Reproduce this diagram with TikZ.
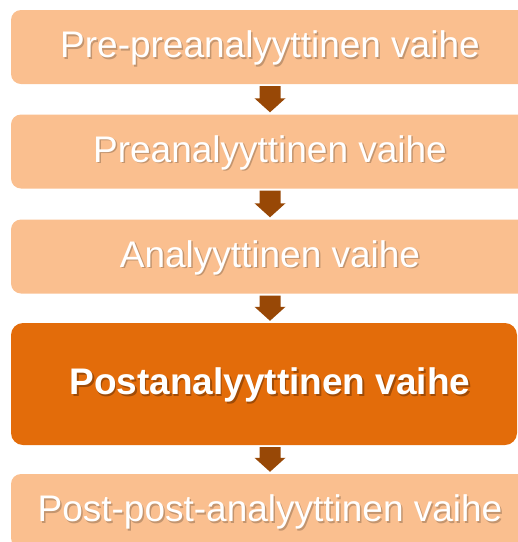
\documentclass[tikz,border=0pt]{standalone}
\usepackage{fontspec}
\setmainfont{Liberation Sans}
\usetikzlibrary{calc}

\definecolor{peach}{HTML}{FABF8F}
\definecolor{burnt}{HTML}{E36C0A}
\definecolor{arrowbrown}{HTML}{984806}

% white label with a soft drop shadow behind it, set slightly low in its box
\newcommand\shadowlabel[2]{\raisebox{-2pt}[\height][\depth]{%
  \rlap{\kern1.5pt\raisebox{-1.5pt}{\color{#1}#2}}#2}}

\tikzset{
  stagebox/.style={fill=peach, draw=none, rounded corners=10pt,
    minimum height=74pt, inner sep=0pt, text=white,
    font=\fontsize{37}{40}\selectfont},
  focusbox/.style={fill=burnt, draw=none, rounded corners=12pt,
    minimum height=122pt, inner sep=0pt, text=white,
    font=\fontsize{37}{40}\selectfont\bfseries},
  flowarrow/.style={fill=arrowbrown, draw=none}
}

% block arrow from the lower edge of #1 to the upper edge of #2
\newcommand\stagearrow[2]{%
  \path[flowarrow] let \p1=(#1.south), \p2=(#2.north), \p3=(b1.south) in
    (\x3-10.5pt,\y1-2pt) -- (\x3+10.5pt,\y1-2pt) -- (\x3+10.5pt,\y2+16pt)
    -- (\x3+15.5pt,\y2+16pt) -- (\x3,\y2+2pt) -- (\x3-15.5pt,\y2+16pt)
    -- (\x3-10.5pt,\y2+16pt) -- cycle;}

\begin{document}
\begin{tikzpicture}[x=1pt,y=-1pt]
\useasboundingbox (0,0) rectangle (518,542);
\clip (0,0) rectangle (518,542);

\node[stagebox, minimum width=518pt] (b1) at (270,47)
  {\shadowlabel{black!22!peach}{Pre-preanalyyttinen vaihe}};
\node[stagebox, minimum width=518pt] (b2) at (270,151.5)
  {\shadowlabel{black!22!peach}{Preanalyyttinen vaihe}};
\node[stagebox, minimum width=518pt] (b3) at (270,256.5)
  {\shadowlabel{black!22!peach}{Analyyttinen vaihe}};
\node[focusbox, minimum width=506pt] (b4) at (264,384)
  {\kern12pt\shadowlabel{black!30!burnt}{Postanalyyttinen vaihe}};
\node[stagebox, minimum width=518pt] (b5) at (270,511)
  {\shadowlabel{black!22!peach}{Post-post-analyyttinen vaihe}};

\stagearrow{b1}{b2}
\stagearrow{b2}{b3}
\stagearrow{b3}{b4}
\stagearrow{b4}{b5}
\end{tikzpicture}
\end{document}
